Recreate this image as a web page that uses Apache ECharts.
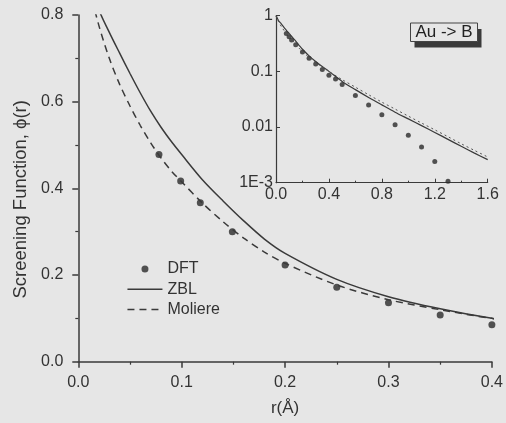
<!DOCTYPE html>
<html>
<head>
<meta charset="utf-8">
<script src="https://cdn.jsdelivr.net/npm/echarts@6/dist/echarts.min.js"></script>
<style>
html,body{margin:0;padding:0;background:#e6e6e6;}
#chart{width:506px;height:423px;}
</style>
</head>
<body>
<div id="chart"></div>
<script>
// DFT screening function points (r in Å)
const dftR   = [0.078, 0.099, 0.118, 0.149, 0.2, 0.25, 0.3, 0.35, 0.4, 0.45, 0.5, 0.6, 0.7, 0.8, 0.9, 1.0, 1.1, 1.2, 1.3];
const dftPhi = [0.478, 0.417, 0.367, 0.300, 0.223, 0.172, 0.136, 0.108, 0.085, 0.073, 0.058, 0.037, 0.025, 0.0167, 0.011, 0.0071, 0.0044, 0.0024, 0.00106];

// Curves
const curveR  = [0, 0.01, 0.02, 0.03, 0.04, 0.05, 0.06, 0.07, 0.08, 0.09, 0.1, 0.12, 0.14, 0.16, 0.18, 0.2, 0.25, 0.3, 0.35, 0.4, 0.5, 0.6, 0.7, 0.8, 0.9, 1.0, 1.1, 1.2, 1.3, 1.4, 1.5, 1.6];
const zblPhi  = [1.0, 0.90, 0.812, 0.76, 0.712, 0.665, 0.62, 0.578, 0.541, 0.508, 0.478, 0.42, 0.371, 0.325, 0.283, 0.25, 0.19, 0.15, 0.122, 0.1, 0.066, 0.047, 0.034, 0.025, 0.0185, 0.014, 0.0106, 0.008, 0.006, 0.0045, 0.0034, 0.0026];
const molPhi  = [1.0, 0.87, 0.775, 0.70, 0.64, 0.59, 0.545, 0.505, 0.47, 0.44, 0.415, 0.366, 0.323, 0.285, 0.253, 0.227, 0.177, 0.143, 0.12, 0.1, 0.071, 0.052, 0.038, 0.028, 0.021, 0.0157, 0.0118, 0.0089, 0.0067, 0.005, 0.0038, 0.0029];

// Axis tick labels
const mainXTicks = [0.0, 0.1, 0.2, 0.3, 0.4];
const mainYTicks = [0.0, 0.2, 0.4, 0.6, 0.8];
const insetXTicks = [0.0, 0.4, 0.8, 1.2, 1.6];
const insetYLabels = {'0': '1', '-1': '0.1', '-2': '0.01', '-3': '1E-3'};

const seriesNames = ['DFT', 'ZBL', 'Moliere'];
const annotation = 'Au -> B';

const dark = '#333333';
const lineCol = '#3a3a3a';
const font = 'Liberation Sans';

const pairs = (xs, ys) => xs.map((x, i) => [x, ys[i]]);
const dftAll = pairs(dftR, dftPhi);
const dftMain = dftAll.filter(d => d[0] <= mainXTicks[mainXTicks.length - 1] + 1e-9);

const chart = echarts.init(document.getElementById('chart'), null, {renderer: 'canvas'});

const axisLineStyle = {color: lineCol, width: 1.5};
const hiddenSym = {color: 'rgba(0,0,0,0)', borderWidth: 0, borderColor: 'rgba(0,0,0,0)'};

const option = {
  backgroundColor: '#e6e6e6',
  animation: false,
  textStyle: {fontFamily: font},
  grid: [
    {left: 78.3, right: 11, top: 15, bottom: 61.3},
    {left: 276, right: 18.3, top: 15.7, bottom: 240.3}
  ],
  legend: {
    left: 121.7, top: 256, orient: 'vertical',
    itemWidth: 35, itemHeight: 7, itemGap: 4.2,
    textStyle: {fontSize: 16, color: dark, fontFamily: font},
    data: [
      {name: seriesNames[0]},
      {name: seriesNames[1], itemStyle: hiddenSym, lineStyle: {color: lineCol, width: 1.5}},
      {name: seriesNames[2], itemStyle: hiddenSym, lineStyle: {color: lineCol, width: 1.5}}
    ]
  },
  xAxis: [
    {
      gridIndex: 0, type: 'value',
      min: mainXTicks[0], max: mainXTicks[mainXTicks.length - 1], interval: mainXTicks[1] - mainXTicks[0],
      axisLine: {onZero: false, lineStyle: axisLineStyle},
      axisTick: {length: 6, lineStyle: axisLineStyle},
      minorTick: {show: true, splitNumber: 2, length: 3, lineStyle: {color: lineCol, width: 1.2}},
      splitLine: {show: false},
      axisLabel: {formatter: v => v.toFixed(1), fontSize: 16, color: dark, margin: 13, fontFamily: font},
      name: 'r(Å)', nameLocation: 'middle', nameGap: 38,
      nameTextStyle: {fontSize: 17, color: dark, fontFamily: font}
    },
    {
      gridIndex: 1, type: 'value',
      min: insetXTicks[0], max: insetXTicks[insetXTicks.length - 1], interval: insetXTicks[1] - insetXTicks[0],
      axisLine: {onZero: false, lineStyle: {color: lineCol, width: 1.2}},
      axisTick: {inside: true, length: 4, lineStyle: {color: lineCol, width: 1}},
      minorTick: {show: true, splitNumber: 2, length: 2, lineStyle: {color: lineCol, width: 1}},
      splitLine: {show: false},
      axisLabel: {formatter: v => v.toFixed(1), fontSize: 16, color: dark, margin: 4, fontFamily: font}
    }
  ],
  yAxis: [
    {
      gridIndex: 0, type: 'value',
      min: mainYTicks[0], max: mainYTicks[mainYTicks.length - 1], interval: mainYTicks[1] - mainYTicks[0],
      axisLine: {onZero: false, lineStyle: axisLineStyle},
      axisTick: {length: 6, lineStyle: axisLineStyle},
      minorTick: {show: true, splitNumber: 2, length: 3, lineStyle: {color: lineCol, width: 1.2}},
      splitLine: {show: false},
      axisLabel: {formatter: v => v.toFixed(1), fontSize: 16, color: dark, margin: 15, fontFamily: font},
      name: 'Screening Function, ϕ(r)', nameLocation: 'middle', nameGap: 48,
      nameTextStyle: {fontSize: 18.5, color: dark, fontFamily: font, padding: [0, 22, 0, 0]}
    },
    {
      gridIndex: 1, type: 'log', logBase: 10, min: 0.001, max: 1,
      axisLine: {onZero: false, lineStyle: {color: lineCol, width: 1.2}},
      axisTick: {inside: true, length: 4, lineStyle: {color: lineCol, width: 1}},
      minorTick: {show: false},
      splitLine: {show: false},
      axisLabel: {
        formatter: v => insetYLabels[String(Math.round(Math.log10(v)))] || '',
        fontSize: 16, color: dark, margin: 3, fontFamily: font
      }
    }
  ],
  series: [
    {
      name: seriesNames[0], type: 'scatter', xAxisIndex: 0, yAxisIndex: 0,
      data: dftMain, symbol: 'circle', symbolSize: 7,
      itemStyle: {color: '#2b2b2b'}
    },
    {
      name: seriesNames[1], type: 'line', xAxisIndex: 0, yAxisIndex: 0,
      data: pairs(curveR, zblPhi), symbol: 'none', smooth: 0.3, clip: true,
      itemStyle: {color: lineCol}, lineStyle: {color: lineCol, width: 1.5}
    },
    {
      name: seriesNames[2], type: 'line', xAxisIndex: 0, yAxisIndex: 0,
      data: pairs(curveR, molPhi), symbol: 'none', smooth: 0.3, clip: true,
      itemStyle: {color: lineCol}, lineStyle: {color: lineCol, width: 1.5, type: [7, 5]}
    },
    {
      name: seriesNames[0], type: 'scatter', xAxisIndex: 1, yAxisIndex: 1,
      data: dftAll, symbol: 'circle', symbolSize: 5,
      itemStyle: {color: '#2b2b2b'}
    },
    {
      name: seriesNames[1], type: 'line', xAxisIndex: 1, yAxisIndex: 1,
      data: pairs(curveR, zblPhi), symbol: 'none', smooth: 0.3,
      itemStyle: {color: lineCol}, lineStyle: {color: lineCol, width: 1.2}
    },
    {
      name: seriesNames[2], type: 'line', xAxisIndex: 1, yAxisIndex: 1,
      data: pairs(curveR, molPhi), symbol: 'none', smooth: 0.3,
      itemStyle: {color: lineCol}, lineStyle: {color: '#555', width: 1, type: [2, 3]}
    }
  ],
  graphic: [
    {type: 'rect', shape: {x: 414.5, y: 29, width: 67, height: 18.5}, style: {fill: '#3a3a3a'}, z: 10},
    {type: 'rect', shape: {x: 410.5, y: 23, width: 67, height: 18.5}, style: {fill: '#e6e6e6', stroke: '#444', lineWidth: 1}, z: 11},
    {type: 'text', x: 444, y: 32.5, style: {text: annotation, fontSize: 17, fontFamily: font, fill: '#222', align: 'center', verticalAlign: 'middle'}, z: 12}
  ]
};

chart.setOption(option);
</script>
</body>
</html>
